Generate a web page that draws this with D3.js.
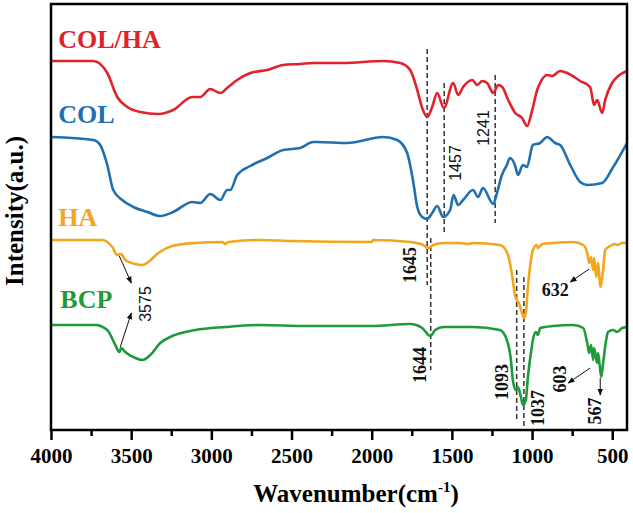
<!DOCTYPE html>
<html><head><meta charset="utf-8">
<script src="https://cdn.jsdelivr.net/npm/d3@7/dist/d3.min.js"></script>
<style>body{margin:0;background:#fff}svg{display:block}text{font-family:"Liberation Serif","Times New Roman",serif}</style>
</head><body><svg id="c" width="633" height="513"></svg>
<script>
// ---- data (wavenumber cm-1, intensity a.u.) ----
const colha = [[4000,369],[3736,369],[3649,357],[3587,333],[3524,323],[3443,318],[3331,316],[3238,320],[3119,333],[3069,333],[3007,341],[2944,337],[2895,343],[2839,350],[2757,357],[2652,360],[2552,365],[2446,366],[2365,367],[2178,367],[1928,369],[1822,367],[1760,360],[1716,340],[1685,322],[1654,313],[1623,323],[1592,337],[1550,322],[1492,347],[1461,335],[1430,343],[1373,350],[1342,345],[1311,349],[1280,347],[1242,337],[1211,345],[1186,343],[1149,330],[1105,317],[1062,312],[1031,304],[999,320],[968,340],[950,347],[906,355],[875,354],[825,359],[781,357],[700,349],[638,343],[613,325],[594,330],[563,317],[544,330],[501,347],[463,354],[408,359]];
const col = [[4000,293],[3736,290],[3693,285],[3649,265],[3612,240],[3556,230],[3487,223],[3400,218],[3319,214],[3238,218],[3119,228],[3069,227],[3007,236],[2944,230],[2901,240],[2882,240],[2839,255],[2757,264],[2652,272],[2552,280],[2446,282],[2365,288],[2340,288],[2153,287],[1928,293],[1841,290],[1779,277],[1740,247],[1716,223],[1685,213],[1654,211],[1623,217],[1592,224],[1554,213],[1511,220],[1490,235],[1461,225],[1430,230],[1368,240],[1337,233],[1306,242],[1242,226],[1219,237],[1188,255],[1157,265],[1138,272],[1107,265],[1088,255],[1057,265],[1032,263],[995,285],[950,287],[906,293],[856,287],[825,285],[762,265],[700,248],[656,245],[563,247],[494,263],[408,287]];
const ha = [[4000,190],[3680,190],[3618,183],[3587,175],[3562,176],[3537,170],[3474,166],[3431,165],[3393,168],[3331,177],[3244,184],[3100,187],[2932,188],[2913,186],[2895,188],[2695,190],[2500,189],[2000,188],[1991,190],[1760,188],[1679,185],[1648,182],[1616,185],[1554,187],[1449,187],[1400,186],[1368,187],[1201,185],[1157,178],[1138,167],[1120,150],[1107,135],[1095,130],[1082,127],[1063,117],[1051,112],[1039,117],[1026,143],[1007,170],[995,180],[970,185],[964,182],[937,186],[868,187],[744,188],[681,185],[656,177],[644,167],[632,173],[619,160],[613,172],[600,153],[588,167],[575,143],[557,160],[544,180],[513,184],[482,186],[469,185],[438,187],[408,187]];
const bcp = [[4000,105],[3724,105],[3649,100],[3599,85],[3574,78],[3562,82],[3537,78],[3474,72],[3431,70],[3381,75],[3319,87],[3244,94],[3100,100],[2913,103],[2695,105],[2400,104],[2000,104],[1760,106],[1685,102],[1635,94],[1604,100],[1554,103],[1449,103],[1368,103],[1201,100],[1157,90],[1132,70],[1120,50],[1101,40],[1088,43],[1070,33],[1057,25],[1039,30],[1026,53],[1007,77],[995,90],[976,98],[964,95],[949,102],[868,104],[744,105],[681,102],[656,87],[644,77],[632,85],[619,70],[613,82],[594,67],[588,77],[569,53],[557,67],[538,90],[526,98],[494,100],[469,98],[438,102],[408,103]];

const seriesNames = ["COL/HA","COL","HA","BCP"];
const seriesColors = ["#e0222b","#1f70b1","#f3a51b","#1e9a3a"];
const seriesData = [colha, col, ha, bcp];
const seriesLabelPos = [[3955,382],[3955,307],[3955,204],[3942,122]];

const majorTicks = [4000,3500,3000,2500,2000,1500,1000,500];
const minorTicks = [3750,3250,2750,2250,1750,1250,750];

// dashed guide lines: [wavenumber, intensity from, intensity to]
const guides = [[1654,381,145],[1632,192,60],[1548,347,197],[1230,355,207],[1096,160,10],[1051,153,3]];
// peak labels: [text, wavenumber, intensity, rotated, bold]
const peakLabels = [["1457",1479,267,true,false],["1241",1305,302,true,false],["1645",1760,165,true,true],["1644",1698,65,true,true],["1093",1186,48,true,true],["1037",962,22,true,true],["603",825,51,true,true],["567",607,19,true,true],["632",856,140,false,true],["3575",3412,126,true,false]];
// arrows: [wn from, int from, wn to, int to]
const arrows = [[3574,174,3499,147],[3568,83,3499,117],[644,161,762,148],[638,62,775,47],[575,52,575,35]];

// ---- drawing ----
const svg = d3.select("#c");
const m = {l:51, t:4, w:576, h:426};
const x = d3.scaleLinear().domain([4000,408]).range([0,m.w]);
const y = d3.scaleLinear().domain([0,426]).range([m.h,0]);
const g = svg.append("g").attr("transform",`translate(${m.l},${m.t})`);

const defs = svg.append("defs");
defs.append("marker").attr("id","ah").attr("viewBox","0 0 10 10").attr("refX",9).attr("refY",5)
  .attr("markerWidth",7).attr("markerHeight",7).attr("orient","auto")
  .append("path").attr("d","M0,1 L10,5 L0,9 Z").attr("fill","#111");

// guides
g.selectAll(".guide").data(guides).join("line")
  .attr("x1",d=>x(d[0])).attr("x2",d=>x(d[0])).attr("y1",d=>y(d[1])).attr("y2",d=>y(d[2]))
  .attr("stroke","#333").attr("stroke-width",1.5).attr("stroke-dasharray","5,3");

const line = d3.line().x(d=>x(d[0])).y(d=>y(d[1])).curve(d3.curveMonotoneX);
seriesData.forEach((s,i)=>{
  g.append("path").datum(s).attr("d",line).attr("fill","none")
   .attr("stroke",seriesColors[i]).attr("stroke-width",2.6).attr("stroke-linejoin","round");
  g.append("text").attr("x",x(seriesLabelPos[i][0])).attr("y",y(seriesLabelPos[i][1]))
   .attr("fill",seriesColors[i]).attr("font-size",26).attr("font-weight","bold").text(seriesNames[i]);
});

// arrows
g.selectAll(".arr").data(arrows).join("line")
  .attr("x1",d=>x(d[0])).attr("y1",d=>y(d[1])).attr("x2",d=>x(d[2])).attr("y2",d=>y(d[3]))
  .attr("stroke","#111").attr("stroke-width",1).attr("marker-end","url(#ah)");

// peak labels
peakLabels.forEach(p=>{
  const px=x(p[1]), py=y(p[2]);
  const t = g.append("text").attr("transform",`translate(${px},${py})`+(p[3]?" rotate(-90)":""))
   .attr("text-anchor","middle").attr("dominant-baseline","central")
   .attr("fill","#111").text(p[0]);
  if (p[4]) t.attr("font-size",18).attr("font-weight","bold");
  else t.attr("font-size",16).style("font-family","'Liberation Sans Narrow','Liberation Sans',sans-serif");
});

// axes
const ax = g.append("g").attr("transform",`translate(0,${m.h})`)
  .call(d3.axisBottom(x).tickValues(majorTicks).tickSize(10).tickPadding(8).tickFormat(d3.format("d")));
ax.select(".domain").remove();
ax.selectAll("line").attr("stroke","#000").attr("stroke-width",2.5);
ax.selectAll("text").attr("font-size",21).attr("font-weight","bold").attr("fill","#000")
  .style("font-family","'Liberation Serif',serif");
const axm = g.append("g").attr("transform",`translate(0,${m.h})`)
  .call(d3.axisBottom(x).tickValues(minorTicks).tickSize(6).tickFormat(""));
axm.select(".domain").remove();
axm.selectAll("line").attr("stroke","#000").attr("stroke-width",2.5);

g.append("rect").attr("x",0).attr("y",0).attr("width",m.w).attr("height",m.h)
  .attr("fill","none").attr("stroke","#000").attr("stroke-width",2.5);

// titles
const xt = svg.append("text").attr("x",356).attr("y",502).attr("text-anchor","middle")
  .attr("font-size",25).attr("font-weight","bold").attr("fill","#000");
xt.append("tspan").text("Wavenumber(cm");
xt.append("tspan").attr("font-size",15).attr("dy",-10).text("-1");
xt.append("tspan").attr("dy",10).text(")");

svg.append("text").attr("transform","translate(23,211) rotate(-90)").attr("text-anchor","middle")
  .attr("font-size",25).attr("font-weight","bold").attr("fill","#000").text("Intensity(a.u.)");
</script></body></html>
